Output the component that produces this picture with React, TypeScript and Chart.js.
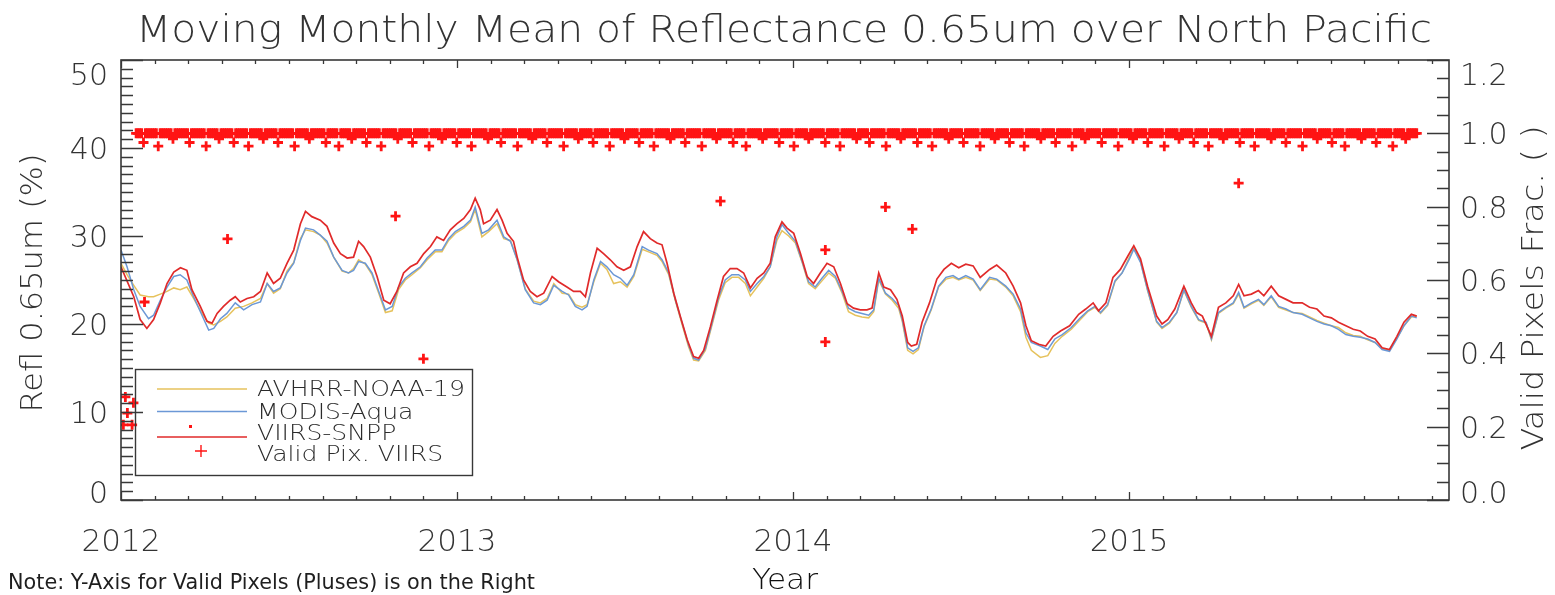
import React, { useEffect, useRef } from 'react';
import { Chart, registerables } from 'chart.js';

Chart.register(...registerables);

// ---- text -------------------------------------------------------------
const TITLE = 'Moving Monthly Mean of Reflectance 0.65um over North Pacific';
const Y_LEFT_TITLE = 'Refl 0.65um (%)';
const Y_RIGHT_TITLE = 'Valid Pixels Frac. ( )';
const X_TITLE = 'Year';
const NOTE = 'Note: Y-Axis for Valid Pixels (Pluses) is on the Right';
const LEGEND_LABELS = ['AVHRR-NOAA-19', 'MODIS-Aqua', 'VIIRS-SNPP', 'Valid Pix. VIIRS'];

// ---- axes -------------------------------------------------------------
const X_MIN = 2012.0;
const X_MAX = 2015.952;
const YEAR_TICKS = [2012, 2013, 2014, 2015];
const REFL_TICKS = [0, 10, 20, 30, 40, 50];
const FRAC_TICKS = [0, 0.2, 0.4, 0.6, 0.8, 1.0, 1.2];

// ---- VIIRS-SNPP reflectance (%) ---------------------------------------
const VIIRS_YEARS = [
  2012.000, 2012.038, 2012.057, 2012.077, 2012.097, 2012.117, 2012.137, 2012.157, 2012.177, 2012.196,
  2012.211, 2012.236, 2012.256, 2012.271, 2012.286, 2012.305, 2012.325, 2012.340, 2012.355, 2012.375,
  2012.395, 2012.415, 2012.435, 2012.454, 2012.474, 2012.494, 2012.514, 2012.534, 2012.549, 2012.568,
  2012.593, 2012.613, 2012.633, 2012.653, 2012.673, 2012.692, 2012.707, 2012.722, 2012.742, 2012.762,
  2012.782, 2012.801, 2012.821, 2012.841, 2012.861, 2012.881, 2012.901, 2012.921, 2012.940, 2012.960,
  2012.980, 2013.000, 2013.020, 2013.040, 2013.054, 2013.069, 2013.079, 2013.099, 2013.119, 2013.134,
  2013.149, 2013.168, 2013.179, 2013.198, 2013.218, 2013.238, 2013.258, 2013.283, 2013.302, 2013.327,
  2013.347, 2013.367, 2013.382, 2013.397, 2013.417, 2013.436, 2013.456, 2013.476, 2013.496, 2013.516,
  2013.536, 2013.555, 2013.575, 2013.595, 2013.610, 2013.625, 2013.645, 2013.665, 2013.685, 2013.704,
  2013.719, 2013.734, 2013.754, 2013.774, 2013.793, 2013.813, 2013.833, 2013.853, 2013.873, 2013.893,
  2013.913, 2013.932, 2013.947, 2013.967, 2013.982, 2014.002, 2014.022, 2014.042, 2014.061, 2014.081,
  2014.101, 2014.121, 2014.141, 2014.161, 2014.180, 2014.200, 2014.220, 2014.235, 2014.255, 2014.270,
  2014.290, 2014.309, 2014.325, 2014.341, 2014.352, 2014.368, 2014.384, 2014.406, 2014.428, 2014.449,
  2014.471, 2014.493, 2014.514, 2014.536, 2014.557, 2014.585, 2014.606, 2014.633, 2014.655, 2014.677,
  2014.693, 2014.709, 2014.731, 2014.752, 2014.774, 2014.796, 2014.823, 2014.850, 2014.871, 2014.893,
  2014.909, 2014.931, 2014.952, 2014.974, 2014.996, 2015.014, 2015.034, 2015.055, 2015.082, 2015.098,
  2015.115, 2015.136, 2015.163, 2015.185, 2015.201, 2015.218, 2015.245, 2015.266, 2015.288, 2015.310,
  2015.326, 2015.342, 2015.364, 2015.385, 2015.401, 2015.423, 2015.445, 2015.467, 2015.488, 2015.515,
  2015.537, 2015.559, 2015.580, 2015.602, 2015.623, 2015.645, 2015.667, 2015.688, 2015.710, 2015.732,
  2015.753, 2015.775, 2015.797, 2015.818, 2015.840, 2015.856,
];
const VIIRS_REFL = [
  26.5, 23.1, 20.5, 19.5, 20.5, 22.4, 24.6, 25.9, 26.4, 26.1,
  23.9, 22.0, 20.3, 20.1, 21.2, 22.0, 22.7, 23.1, 22.5, 22.9,
  23.1, 23.7, 25.8, 24.6, 25.2, 26.9, 28.4, 31.4, 32.8, 32.2,
  31.8, 31.1, 29.2, 28.0, 27.5, 27.6, 29.4, 28.8, 27.6, 25.4,
  22.7, 22.3, 23.7, 25.8, 26.5, 26.9, 28.0, 28.8, 29.9, 29.5,
  30.7, 31.4, 32.0, 33.0, 34.3, 33.0, 31.4, 31.8, 33.0, 31.8,
  30.3, 29.4, 27.6, 25.0, 23.7, 23.1, 23.5, 25.4, 24.8, 24.2,
  23.7, 23.7, 23.1, 25.8, 28.6, 28.0, 27.3, 26.5, 26.1, 26.5,
  28.8, 30.5, 29.7, 29.2, 29.0, 26.9, 23.5, 20.8, 18.2, 16.3,
  16.1, 17.0, 19.7, 22.7, 25.4, 26.3, 26.3, 25.8, 24.1, 25.2,
  25.8, 26.9, 29.9, 31.6, 30.9, 30.3, 28.0, 25.4, 24.6, 25.8,
  26.9, 26.5, 24.6, 22.3, 21.8, 21.6, 21.6, 21.8, 25.8, 24.2,
  23.9, 22.8, 20.9, 17.9, 17.5, 17.7, 20.2, 22.4, 25.1, 26.2,
  26.9, 26.4, 26.8, 26.6, 25.3, 26.2, 26.7, 25.8, 24.3, 22.4,
  19.8, 18.1, 17.7, 17.5, 18.6, 19.2, 19.8, 21.1, 21.7, 22.4,
  21.5, 22.4, 25.3, 26.2, 27.7, 28.9, 27.4, 24.3, 20.9, 20.0,
  20.5, 21.7, 24.3, 22.4, 21.3, 20.9, 18.6, 21.9, 22.4, 23.2,
  24.5, 23.2, 23.4, 23.8, 23.2, 24.3, 23.2, 22.8, 22.4, 22.4,
  21.9, 21.7, 20.9, 20.7, 20.2, 19.8, 19.4, 19.2, 18.6, 18.3,
  17.3, 17.1, 18.6, 20.2, 21.1, 20.9,
];

// ---- MODIS-Aqua and AVHRR-NOAA-19 reflectance (%) ----------------------
const SAMPLE_YEARS = [
  2012.000, 2012.018, 2012.038, 2012.057, 2012.082, 2012.097, 2012.117, 2012.137, 2012.157, 2012.176,
  2012.196, 2012.216, 2012.241, 2012.261, 2012.276, 2012.296, 2012.315, 2012.340, 2012.365, 2012.390,
  2012.415, 2012.435, 2012.454, 2012.474, 2012.494, 2012.514, 2012.534, 2012.549, 2012.573, 2012.593,
  2012.613, 2012.633, 2012.658, 2012.677, 2012.692, 2012.707, 2012.727, 2012.747, 2012.767, 2012.787,
  2012.807, 2012.826, 2012.846, 2012.866, 2012.891, 2012.911, 2012.935, 2012.955, 2012.975, 2012.995,
  2013.020, 2013.040, 2013.054, 2013.074, 2013.094, 2013.119, 2013.139, 2013.159, 2013.179, 2013.203,
  2013.228, 2013.248, 2013.268, 2013.288, 2013.313, 2013.332, 2013.352, 2013.372, 2013.387, 2013.407,
  2013.427, 2013.446, 2013.466, 2013.486, 2013.506, 2013.526, 2013.551, 2013.570, 2013.595, 2013.610,
  2013.630, 2013.650, 2013.670, 2013.689, 2013.704, 2013.719, 2013.739, 2013.759, 2013.779, 2013.798,
  2013.818, 2013.838, 2013.858, 2013.873, 2013.893, 2013.913, 2013.932, 2013.952, 2013.967, 2013.987,
  2014.007, 2014.027, 2014.046, 2014.066, 2014.086, 2014.106, 2014.126, 2014.146, 2014.165, 2014.185,
  2014.205, 2014.225, 2014.240, 2014.255, 2014.275, 2014.295, 2014.314, 2014.325, 2014.341, 2014.357,
  2014.373, 2014.390, 2014.411, 2014.433, 2014.455, 2014.476, 2014.493, 2014.514, 2014.536, 2014.557,
  2014.585, 2014.606, 2014.633, 2014.655, 2014.677, 2014.693, 2014.709, 2014.736, 2014.758, 2014.779,
  2014.801, 2014.828, 2014.855, 2014.877, 2014.898, 2014.915, 2014.936, 2014.958, 2014.979, 2015.001,
  2015.014, 2015.034, 2015.055, 2015.082, 2015.098, 2015.120, 2015.142, 2015.163, 2015.185, 2015.207,
  2015.229, 2015.245, 2015.266, 2015.288, 2015.310, 2015.326, 2015.342, 2015.364, 2015.385, 2015.401,
  2015.423, 2015.445, 2015.467, 2015.488, 2015.515, 2015.537, 2015.559, 2015.580, 2015.602, 2015.623,
  2015.645, 2015.667, 2015.688, 2015.710, 2015.732, 2015.753, 2015.775, 2015.797, 2015.818, 2015.840,
  2015.856,
];
const MODIS_REFL = [
  28.4, 26.5, 23.9, 22.0, 20.6, 21.0, 22.7, 24.2, 25.4, 25.6,
  25.0, 23.1, 21.0, 19.3, 19.5, 20.6, 21.2, 22.4, 21.6, 22.2,
  22.5, 24.6, 23.7, 24.1, 25.8, 26.9, 29.5, 30.9, 30.7, 30.1,
  29.4, 27.6, 26.1, 25.8, 26.1, 27.1, 26.9, 25.8, 23.7, 21.6,
  22.0, 24.2, 25.2, 25.8, 26.5, 27.5, 28.4, 28.4, 29.7, 30.5,
  31.1, 31.8, 33.3, 30.3, 30.7, 31.8, 29.9, 29.4, 27.3, 23.9,
  22.4, 22.2, 22.7, 24.4, 23.7, 23.3, 22.0, 21.6, 22.0, 25.0,
  27.1, 26.5, 25.6, 25.2, 24.4, 25.6, 28.8, 28.4, 28.0, 27.3,
  25.8, 22.7, 20.1, 17.6, 16.1, 15.9, 17.2, 20.1, 23.1, 25.0,
  25.6, 25.6, 25.0, 23.7, 24.6, 25.4, 26.5, 29.9, 31.3, 30.3,
  29.4, 27.1, 24.8, 24.2, 25.2, 26.1, 25.4, 23.7, 21.8, 21.4,
  21.2, 21.0, 21.6, 25.2, 23.5, 22.9, 22.1, 20.5, 17.3, 16.9,
  17.3, 19.8, 21.7, 24.3, 25.3, 25.5, 25.1, 25.5, 25.1, 23.9,
  25.3, 25.1, 24.3, 23.4, 21.7, 19.0, 17.9, 17.5, 17.1, 18.3,
  18.8, 19.6, 20.7, 21.5, 22.0, 21.3, 22.2, 24.9, 25.8, 27.4,
  28.5, 27.0, 23.9, 20.3, 19.6, 20.2, 21.3, 23.9, 22.0, 20.5,
  20.2, 18.3, 21.3, 21.9, 22.4, 23.6, 21.9, 22.4, 22.8, 22.2,
  23.2, 22.0, 21.7, 21.3, 21.1, 20.7, 20.3, 20.0, 19.8, 19.4,
  18.8, 18.6, 18.5, 18.3, 17.9, 17.1, 16.9, 18.3, 19.8, 20.9,
  20.7,
];
const AVHRR_REFL = [
  26.9, 25.6, 24.4, 23.3, 23.1, 23.1, 23.4, 23.7, 24.1, 23.9,
  24.2, 22.9, 21.2, 20.1, 19.9, 20.3, 20.8, 21.8, 22.0, 22.4,
  22.9, 24.6, 23.5, 24.0, 26.0, 27.0, 29.7, 30.7, 30.5, 30.1,
  29.2, 27.6, 26.0, 25.8, 26.3, 27.3, 26.8, 25.6, 23.5, 21.3,
  21.5, 23.9, 25.0, 25.6, 26.4, 27.3, 28.2, 28.2, 29.5, 30.3,
  30.9, 31.6, 33.0, 29.9, 30.5, 31.4, 29.7, 29.5, 27.3, 24.0,
  22.6, 22.4, 22.9, 24.6, 23.5, 23.4, 22.2, 21.9, 22.2, 24.8,
  26.9, 26.2, 24.6, 24.8, 24.2, 25.4, 28.5, 28.2, 27.8, 27.1,
  25.6, 22.6, 19.9, 17.4, 15.9, 15.8, 17.0, 19.9, 22.8, 24.7,
  25.3, 25.3, 24.6, 23.2, 24.2, 25.2, 26.5, 29.5, 30.6, 30.0,
  29.2, 27.0, 24.6, 24.0, 24.9, 25.8, 25.2, 23.5, 21.4, 21.0,
  20.8, 20.7, 21.4, 25.0, 23.4, 22.7, 21.8, 20.3, 17.0, 16.6,
  17.1, 19.7, 21.6, 24.2, 25.1, 25.3, 25.0, 25.3, 25.0, 23.8,
  25.1, 25.0, 24.2, 23.2, 21.4, 18.5, 17.0, 16.2, 16.4, 17.8,
  18.6, 19.4, 20.5, 21.4, 21.9, 21.2, 22.1, 24.8, 25.8, 27.6,
  28.7, 27.1, 23.8, 20.2, 19.5, 20.1, 21.3, 23.8, 21.9, 20.4,
  20.1, 18.2, 21.2, 21.8, 22.3, 23.4, 21.8, 22.3, 22.7, 22.1,
  23.1, 21.9, 21.6, 21.3, 21.2, 20.8, 20.4, 20.1, 19.8, 19.6,
  19.0, 18.7, 18.6, 18.2, 17.9, 17.2, 17.0, 18.4, 19.8, 20.8,
  20.9,
];

// ---- VIIRS valid pixel fraction ---------------------------------------
// Every-other-day values from VALID_START to VALID_END, one letter per sample.
const VALID_START = 2012.045;
const VALID_END = 2015.856;
const VALID_LEVELS: Record<string, number> = { a: 1.0, b: 0.985, c: 0.975, d: 0.965 };
const VALID_CODES = [
  'aaaacaaaaaaadaaaaaaabaaaaaaaacaaaaaaaadaaaaaabaaaaaaacaaaa',
  'aaadaaaaaaabaaaaaaacaaaaaaaadaaaaaaabaaaaaaaacaaaaaadaaaaa',
  'abaaaaaaacaaaaaaadaaaaaaaabaaaaaaacaaaaaaaadaaaaaabaaaaaaa',
  'caaaaaaadaaaaaaaabaaaaaacaaaaaaaadaaaaaaabaaaaaaacaaaaaaaa',
  'daaaaaaabaaaaaaacaaaaaaaadaaaaaaabaaaaaaacaaaaaaadaaaaaaaa',
  'baaaaaaacaaaaaaaadaaaaaaabaaaaaaaacaaaaaadaaaaaaaabaaaaaaa',
  'acaaaaaaadaaaaaaabaaaaaaaacaaaaaaadaaaaaaaabaaaaaacaaaaaaa',
  'adaaaaaaabaaaaaaaacaaaaaaadaaaaaaaabaaaaaaacaaaaaaaadaaaaa',
  'aabaaaaaaacaaaaaaadaaaaaaaabaaaaaaacaaaaaaaadaaaaaabaaaaaa',
  'aacaaaaaaaadaaaaaaabaaaaaaacaaaaaaaadaaaaaaabaaaaaaacaaaaa',
  'aadaaaaaaabaaaaaaaacaaaaaaadaaaaaaaabaaaaaaacaaaaaaaadaaaa',
  'aaabaaaaaaacaaaaaadaaaaaaaabaaaaaaacaaaaaaaadaaaaaabaaaaaa',
].join('');
const VALID_LOW_YEARS = [
  2012.007, 2012.013, 2012.019, 2012.033, 2012.037, 2012.070, 2012.317,
  2012.817, 2012.900, 2013.784, 2014.096, 2014.096, 2014.275, 2014.355, 2015.326,
];
const VALID_LOW_FRAC = [
  0.205, 0.281, 0.237, 0.205, 0.265, 0.54, 0.712,
  0.774, 0.385, 0.815, 0.682, 0.431, 0.799, 0.739, 0.864,
];

// ---- style ------------------------------------------------------------
const FONT = '"DejaVu Sans", "Liberation Sans", sans-serif';
const WEIGHT = '300';
const INK = '#333333';
const FRAME = '#383838';
const AVHRR_COLOR = '#e6c25c';
const MODIS_COLOR = '#6b98d6';
const VIIRS_COLOR = '#e02a2a';
const VALID_COLOR = '#ff1414';

function fitText(
  ctx: CanvasRenderingContext2D, text: string, x: number, y: number,
  size: number, width: number, align: CanvasTextAlign = 'center', rotate = 0,
  color = INK, weight = WEIGHT,
) {
  ctx.save();
  ctx.font = `${weight} ${size}px ${FONT}`;
  const natural = ctx.measureText(text).width;
  ctx.translate(x, y);
  if (rotate) ctx.rotate(rotate);
  ctx.scale(width / natural, 1);
  ctx.fillStyle = color;
  ctx.textAlign = align;
  ctx.textBaseline = 'alphabetic';
  ctx.fillText(text, 0, 0);
  ctx.restore();
}

// Tick labels for a vertical scale; the end labels are kept inside the frame.
function yLabels(
  ctx: CanvasRenderingContext2D, scale: any, values: number[], fmt: (v: number) => string,
  x: number, align: CanvasTextAlign, top: number, bottom: number,
) {
  ctx.save();
  ctx.font = `${WEIGHT} 30px ${FONT}`;
  ctx.fillStyle = INK;
  ctx.textAlign = align;
  ctx.textBaseline = 'alphabetic';
  values.forEach((v) => {
    const centre = Math.min(Math.max(scale.getPixelForValue(v), top + 14), bottom - 8);
    ctx.fillText(fmt(v), x, centre + 11);
  });
  ctx.restore();
}

// Frame, inward ticks, titles, note and in-plot legend (IDL-style plot box).
const plotDecor = {
  id: 'plotDecor',
  afterDraw(chart: any) {
    const { ctx, chartArea } = chart;
    const { left, right, top, bottom } = chartArea;
    const sx = chart.scales.x;
    const sy = chart.scales.y;
    const sy1 = chart.scales.y1;

    ctx.save();
    ctx.strokeStyle = FRAME;
    ctx.lineWidth = 1.6;
    ctx.strokeRect(left, top, right - left, bottom - top);

    ctx.lineWidth = 1.3;
    ctx.beginPath();
    for (let k = 0; k <= 50; k++) {
      const y = Math.round(sy.getPixelForValue(k)) + 0.5;
      const len = k % 10 === 0 ? 22 : 12;
      ctx.moveTo(left, y);
      ctx.lineTo(left + len, y);
    }
    for (let k = 0; k <= 24; k++) {
      const y = Math.round(sy1.getPixelForValue(k * 0.05)) + 0.5;
      const len = k % 4 === 0 ? 22 : 12;
      ctx.moveTo(right, y);
      ctx.lineTo(right - len, y);
    }
    for (let k = 0; k <= 40; k++) {
      const v = X_MIN + k / 10;
      if (v > X_MAX) break;
      const x = Math.round(sx.getPixelForValue(v)) + 0.5;
      const len = k % 10 === 0 ? 8 : 4;
      ctx.moveTo(x, bottom);
      ctx.lineTo(x, bottom - len);
      ctx.moveTo(x, top);
      ctx.lineTo(x, top + len);
    }
    ctx.stroke();

    yLabels(ctx, sy, REFL_TICKS, (v) => String(v), 108, 'right', top, bottom);
    yLabels(ctx, sy1, FRAC_TICKS, (v) => v.toFixed(1), 1460, 'left', top, bottom);

    // titles and note
    fitText(ctx, TITLE, 784, 42, 37, 1296);
    fitText(ctx, Y_LEFT_TITLE, 42, 283, 30, 259, 'center', -Math.PI / 2);
    fitText(ctx, Y_RIGHT_TITLE, 1543, 288, 30, 325, 'center', -Math.PI / 2);
    fitText(ctx, X_TITLE, 785, 589, 28, 66, 'center', 0, '#111');
    fitText(ctx, NOTE, 8, 589, 21, 527, 'left', 0, '#1e1e1e', '400');

    // legend box
    ctx.strokeStyle = FRAME;
    ctx.lineWidth = 1.4;
    ctx.strokeRect(135.5, 369.5, 337, 106);
    const lineX0 = 157, lineX1 = 247, textX = 257;
    const rows = [
      { color: AVHRR_COLOR, lineY: 389 },
      { color: MODIS_COLOR, lineY: 411.5 },
      { color: VIIRS_COLOR, lineY: 437 },
    ];
    ctx.lineWidth = 1.6;
    rows.forEach((r) => {
      ctx.strokeStyle = r.color;
      ctx.beginPath();
      ctx.moveTo(lineX0, r.lineY);
      ctx.lineTo(lineX1, r.lineY);
      ctx.stroke();
    });
    ctx.fillStyle = VALID_COLOR;
    ctx.fillRect(189, 425, 3, 3);
    ctx.strokeStyle = VALID_COLOR;
    ctx.lineWidth = 1.4;
    ctx.beginPath();
    ctx.moveTo(195, 451); ctx.lineTo(207, 451);
    ctx.moveTo(201, 445); ctx.lineTo(201, 457);
    ctx.stroke();

    ctx.font = `${WEIGHT} 21px ${FONT}`;
    const stretch = 208 / ctx.measureText(LEGEND_LABELS[0]).width;
    const textYs = [396, 418.5, 439.5, 461];
    LEGEND_LABELS.forEach((label, i) => {
      ctx.font = `${WEIGHT} 21px ${FONT}`;
      const w = ctx.measureText(label).width * stretch;
      fitText(ctx, label, textX, textYs[i], 21, w, 'left', 0, '#2b2b2b');
    });
    ctx.restore();
  },
};

export default function App() {
  const canvasRef = useRef<HTMLCanvasElement | null>(null);

  useEffect(() => {
    const canvas = canvasRef.current;
    if (!canvas) return;

    const pairs = (xs: number[], ys: number[]) => xs.map((x, i) => ({ x, y: ys[i] }));
    const codes = VALID_CODES.split('');
    const band = codes.map((c, i) => ({
      x: VALID_START + ((VALID_END - VALID_START) * i) / (codes.length - 1),
      y: VALID_LEVELS[c],
    }));
    const validPoints = [...band, ...pairs(VALID_LOW_YEARS, VALID_LOW_FRAC)];

    const chart = new Chart(canvas, {
      type: 'line',
      data: {
        datasets: [
          {
            label: LEGEND_LABELS[3],
            data: validPoints,
            yAxisID: 'y1',
            showLine: false,
            pointStyle: 'cross',
            pointRadius: 5,
            pointBorderWidth: 2.8,
            pointBorderColor: VALID_COLOR,
            pointBackgroundColor: VALID_COLOR,
            borderColor: VALID_COLOR,
          },
          {
            label: LEGEND_LABELS[2],
            data: pairs(VIIRS_YEARS, VIIRS_REFL),
            yAxisID: 'y',
            borderColor: VIIRS_COLOR,
            borderWidth: 1.7,
            pointRadius: 0,
          },
          {
            label: LEGEND_LABELS[1],
            data: pairs(SAMPLE_YEARS, MODIS_REFL),
            yAxisID: 'y',
            borderColor: MODIS_COLOR,
            borderWidth: 1.5,
            pointRadius: 0,
          },
          {
            label: LEGEND_LABELS[0],
            data: pairs(SAMPLE_YEARS, AVHRR_REFL),
            yAxisID: 'y',
            borderColor: AVHRR_COLOR,
            borderWidth: 1.5,
            pointRadius: 0,
          },
        ],
      },
      options: {
        animation: false,
        responsive: false,
        maintainAspectRatio: false,
        events: [],
        layout: { padding: { top: 60, left: 0, right: 0, bottom: 0 } },
        plugins: {
          legend: { display: false },
          title: { display: false },
          tooltip: { enabled: false },
        },
        scales: {
          x: {
            type: 'linear',
            min: X_MIN,
            max: X_MAX,
            afterBuildTicks: (s: any) => { s.ticks = YEAR_TICKS.map((v) => ({ value: v })); },
            afterFit: (s: any) => { s.height = 95; },
            grid: { display: false, drawTicks: false },
            border: { display: false },
            ticks: {
              padding: 24,
              font: { family: FONT, size: 31, weight: WEIGHT },
              color: INK,
              maxRotation: 0,
              autoSkip: false,
              callback: (v: any) => String(v),
            },
          },
          y: {
            position: 'left',
            min: 0,
            max: 50,
            afterBuildTicks: (s: any) => { s.ticks = REFL_TICKS.map((v) => ({ value: v })); },
            afterFit: (s: any) => { s.width = 121; },
            grid: { display: false, drawTicks: false },
            border: { display: false },
            ticks: { display: false },
          },
          y1: {
            position: 'right',
            min: 0,
            max: 1.2,
            afterBuildTicks: (s: any) => { s.ticks = FRAC_TICKS.map((v) => ({ value: v })); },
            afterFit: (s: any) => { s.width = 106; },
            grid: { display: false, drawTicks: false },
            border: { display: false },
            ticks: { display: false },
          },
        },
      },
      plugins: [plotDecor],
    } as any);

    return () => chart.destroy();
  }, []);

  return (
    <div style={{ position: 'absolute', left: 0, top: 0, width: 1555, height: 595, background: '#fff' }}>
      <canvas ref={canvasRef} width={1555} height={595} style={{ display: 'block', width: 1555, height: 595 }} />
    </div>
  );
}
